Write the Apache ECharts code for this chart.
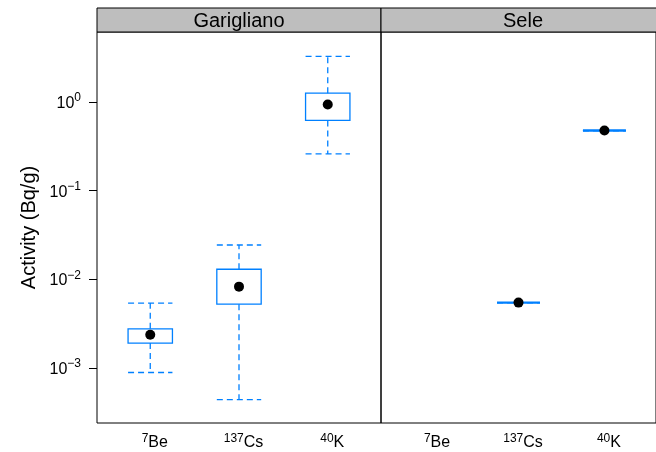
<!DOCTYPE html>
<html><head><meta charset="utf-8">
<script src="https://cdn.jsdelivr.net/npm/echarts@6/dist/echarts.min.js"></script>
<style>html,body{margin:0;padding:0;background:#fff}#c{width:656px;height:452px}</style>
</head><body><div id="c"></div>
<script>
// ---- data ----
const panels = ['Garigliano', 'Sele'];
const massNumbers = ['7', '137', '40'];
const elements = ['Be', 'Cs', 'K'];
const yTicks = [0.001, 0.01, 0.1, 1];
// each entry: [lower whisker, Q1, median, Q3, upper whisker] in Bq/g
const garigliano = [
  [0.00089, 0.00191, 0.00237, 0.00277, 0.0054],
  [0.00044, 0.00525, 0.00828, 0.0130, 0.0244],
  [0.26, 0.62, 0.94, 1.26, 3.27]
];
const sele = [
  null,
  [0.00547, 0.00547, 0.00547, 0.00547, 0.00547],
  [0.477, 0.477, 0.477, 0.477, 0.477]
];
const panelData = [garigliano, sele];

// ---- styling ----
const BLUE = '#0080ff';
const FONT = '"Liberation Sans", Arial, Helvetica, sans-serif';
const Y_MIN = Math.pow(10, -3.62), Y_MAX = Math.pow(10, 0.79);
const PANEL_W = 284, PANEL_TOP = 32, PANEL_H = 391, LEFT0 = 97;

const chart = echarts.init(document.getElementById('c'), null, {renderer: 'canvas'});

function renderBox(params, api) {
  const x = api.value(0);
  const lo = api.coord([x, api.value(1)]);
  const q1 = api.coord([x, api.value(2)]);
  const q3 = api.coord([x, api.value(4)]);
  const hi = api.coord([x, api.value(5)]);
  const left = api.coord([x - 0.25, api.value(3)])[0];
  const right = api.coord([x + 0.25, api.value(3)])[0];
  const flat = Math.abs(q1[1] - q3[1]) < 1;
  const solid = {stroke: BLUE, lineWidth: flat ? 2.4 : 1.3, fill: null};
  const dashed = {stroke: BLUE, lineWidth: 1.3, lineDash: [6, 4], fill: null};
  return {type: 'group', children: [
    {type: 'line', shape: {x1: q1[0], y1: q1[1], x2: lo[0], y2: lo[1]}, style: dashed},
    {type: 'line', shape: {x1: q3[0], y1: q3[1], x2: hi[0], y2: hi[1]}, style: dashed},
    {type: 'line', shape: {x1: left, y1: lo[1], x2: right, y2: lo[1]}, style: dashed},
    {type: 'line', shape: {x1: left, y1: hi[1], x2: right, y2: hi[1]}, style: dashed},
    {type: 'rect', shape: {x: left, y: q3[1], width: right - left, height: q1[1] - q3[1]}, style: solid}
  ]};
}

const grids = [], xAxes = [], yAxes = [], series = [], graphics = [];
panels.forEach((name, p) => {
  const left = LEFT0 + p * PANEL_W;
  grids.push({left: left, top: PANEL_TOP, width: PANEL_W, height: PANEL_H, show: true,
    borderColor: '#000', borderWidth: 1, backgroundColor: 'transparent'});
  xAxes.push({type: 'value', gridIndex: p, min: 0.4, max: 3.6,
    axisLine: {show: false}, splitLine: {show: false},
    axisTick: {show: false},
    axisLabel: {show: true, customValues: [1, 2, 3], margin: 10, padding: [0, 0, 0, 9],
      formatter: v => '{sup|' + massNumbers[v - 1] + '}{base|' + elements[v - 1] + '}',
      rich: {
        base: {fontSize: 16, fontFamily: FONT, color: '#000', lineHeight: 20},
        sup: {fontSize: 12, fontFamily: FONT, color: '#000', verticalAlign: 'top', lineHeight: 12}
      }}
  });
  yAxes.push({type: 'log', logBase: 10, gridIndex: p, min: Y_MIN, max: Y_MAX,
    name: p === 0 ? 'Activity (Bq/g)' : '', nameLocation: 'middle', nameRotate: 90, nameGap: 58,
    nameTextStyle: {fontSize: 20, fontFamily: FONT, color: '#000'},
    axisLine: {show: false}, splitLine: {show: false}, minorTick: {show: false},
    axisTick: {show: p === 0, customValues: yTicks, length: 8, inside: false,
      lineStyle: {color: '#000', width: 1}},
    axisLabel: {show: p === 0, customValues: yTicks, margin: 16,
      formatter: v => {
        const e = Math.round(Math.log10(v));
        return '{base|10}{sup|' + (e < 0 ? '\u2212' + (-e) : e) + '}';
      },
      rich: {
        base: {fontSize: 16, fontFamily: FONT, color: '#000', lineHeight: 20, padding: [3, 0, 0, 0]},
        sup: {fontSize: 12, fontFamily: FONT, color: '#000', verticalAlign: 'top', lineHeight: 12}
      }}
  });
  const boxes = [], medians = [];
  panelData[p].forEach((d, i) => {
    if (!d) return;
    boxes.push([i + 1, d[0], d[1], d[2], d[3], d[4]]);
    medians.push([i + 1, d[2]]);
  });
  series.push({type: 'custom', xAxisIndex: p, yAxisIndex: p, renderItem: renderBox,
    encode: {x: 0, y: [1, 2, 3, 4, 5]}, data: boxes, silent: true, z: 2});
  series.push({type: 'scatter', xAxisIndex: p, yAxisIndex: p, data: medians,
    symbol: 'circle', symbolSize: 10, itemStyle: {color: '#000', opacity: 1}, silent: true, z: 3});
  graphics.push({type: 'rect', shape: {x: left, y: 8, width: PANEL_W, height: PANEL_TOP - 8},
    style: {fill: '#bebebe', stroke: '#000', lineWidth: 1}, z: 10});
  graphics.push({type: 'text', x: left + PANEL_W / 2, y: 8 + (PANEL_TOP - 8) / 2 + 1,
    style: {text: name, fontSize: 20, fontFamily: FONT, fill: '#000', align: 'center', verticalAlign: 'middle'}, z: 11});
});

chart.setOption({
  animation: false,
  backgroundColor: '#fff',
  grid: grids, xAxis: xAxes, yAxis: yAxes, series: series,
  graphic: graphics
});
</script></body></html>
